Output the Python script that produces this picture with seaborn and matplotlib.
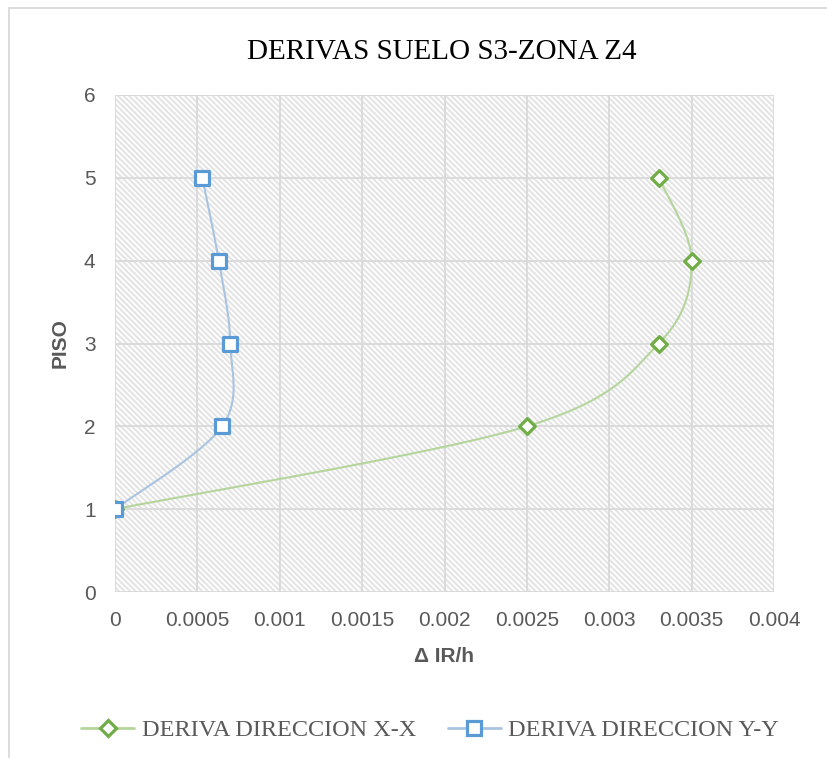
import numpy as np
import pandas as pd
import matplotlib
matplotlib.use("Agg")
import matplotlib.pyplot as plt
from matplotlib.patches import Rectangle
from matplotlib.lines import Line2D
import seaborn as sns

# ---- data ----
pisos = [1, 2, 3, 4, 5]
deriva_xx = [0.0, 0.00250, 0.00330, 0.00350, 0.00330]
deriva_yy = [0.0, 0.00065, 0.00070, 0.00063, 0.00053]
series_names = ["DERIVA DIRECCION X-X", "DERIVA DIRECCION Y-Y"]
x_ticks = [0, 0.0005, 0.001, 0.0015, 0.002, 0.0025, 0.003, 0.0035, 0.004]
x_tick_labels = ["0", "0.0005", "0.001", "0.0015", "0.002", "0.0025", "0.003", "0.0035", "0.004"]
y_ticks = [0, 1, 2, 3, 4, 5, 6]
title = "DERIVAS SUELO S3-ZONA Z4"
xlabel = "\u0394 IR/h"
ylabel = "PISO"

sns.set_theme(style="white")
plt.rcParams["hatch.linewidth"] = 1.5
plt.rcParams["hatch.color"] = "#e4e4e4"

W, H = 827, 758
fig = plt.figure(figsize=(W / 100, H / 100), dpi=100)
ax = fig.add_axes([115 / W, 1 - 592 / H, (774 - 115) / W, (592 - 95) / H])

XMAX, YMAX = 0.004, 6
ax.set_xlim(0, XMAX)
ax.set_ylim(0, YMAX)

# hatched plot area background
ax.add_patch(Rectangle((0, 0), 1, 1, transform=ax.transAxes, facecolor="white",
                       edgecolor="#e4e4e4", hatch="\\\\\\\\\\\\", linewidth=0, zorder=0))

def smooth(xs, ys, n=40):
    # Excel-like smoothed line (Catmull-Rom / Bezier) in display-proportional space
    sx, sy = 659 / XMAX, 497 / YMAX
    P = np.column_stack([np.array(xs) * sx, np.array(ys) * sy])
    out = []
    for i in range(len(P) - 1):
        p0 = P[i - 1] if i > 0 else P[i]
        p1, p2 = P[i], P[i + 1]
        p3 = P[i + 2] if i + 2 < len(P) else P[i + 1]
        c1 = p1 + (p2 - p0) / 6
        c2 = p2 - (p3 - p1) / 6
        t = np.linspace(0, 1, n)[:, None]
        seg = (1 - t) ** 3 * p1 + 3 * (1 - t) ** 2 * t * c1 + 3 * (1 - t) * t ** 2 * c2 + t ** 3 * p2
        out.append(seg if i == 0 else seg[1:])
    S = np.vstack(out)
    return S[:, 0] / sx, S[:, 1] / sy

green, green_l = "#70ad47", "#b4d59c"
blue, blue_l = "#5b9bd5", "#a9c4e0"

for vals, lc in [(deriva_xx, green_l), (deriva_yy, blue_l)]:
    cx, cy = smooth(vals, pisos)
    df = pd.DataFrame({"x": cx, "y": cy})
    sns.lineplot(data=df, x="x", y="y", sort=False, estimator=None, color=lc,
                 linewidth=1.5, ax=ax, zorder=3)

df_pts = pd.DataFrame({"x": deriva_xx + deriva_yy, "y": pisos + pisos,
                       "serie": [series_names[0]] * 5 + [series_names[1]] * 5})
sns.scatterplot(data=df_pts[df_pts.serie == series_names[0]], x="x", y="y", marker="D",
                s=8 ** 2, facecolor="white", edgecolor=green, linewidth=2.3, ax=ax,
                zorder=5, legend=False)
sns.scatterplot(data=df_pts[df_pts.serie == series_names[1]], x="x", y="y", marker="s",
                s=10 ** 2, facecolor="white", edgecolor=blue, linewidth=2.3, ax=ax,
                zorder=5, legend=False)

ax.set_xticks(x_ticks)
ax.set_xticklabels(x_tick_labels)
ax.set_yticks(y_ticks)
ax.grid(True, color="#d9d9d9", linewidth=1.3, zorder=1)
ax.set_axisbelow(True)
for s in ax.spines.values():
    s.set_visible(False)
ax.tick_params(axis="both", length=0, labelsize=15, labelcolor="#595959", pad=14)
for lab in ax.get_xticklabels() + ax.get_yticklabels():
    lab.set_family("Liberation Sans")

ax.set_xlabel(xlabel, fontsize=15, fontweight="bold", color="#595959",
              family="Liberation Sans", labelpad=12)
ax.set_ylabel(ylabel, fontsize=15, fontweight="bold", color="#595959",
              family="Liberation Sans", labelpad=10)

fig.text(442 / W, 1 - 52 / H, title, ha="center", va="center", fontsize=21,
         family="Liberation Serif", color="#000000")

handles = [
    Line2D([0], [0], color=green_l, lw=2, marker="D", markersize=8,
           markerfacecolor="white", markeredgecolor=green, markeredgewidth=2.3),
    Line2D([0], [0], color=blue_l, lw=2, marker="s", markersize=10,
           markerfacecolor="white", markeredgecolor=blue, markeredgewidth=2.3),
]
leg = fig.legend(handles, series_names, loc="center", bbox_to_anchor=(430 / W, 1 - 730 / H),
                 ncol=2, frameon=False, handlelength=2.2, columnspacing=1.3,
                 handletextpad=0.3, prop={"family": "Liberation Serif", "size": 17.5})
for t in leg.get_texts():
    t.set_color("#595959")

# outer chart border
fig.add_artist(Rectangle((9 / W, -0.1), 1.2, 1 - 8 / H + 0.1, transform=fig.transFigure,
                         fill=False, edgecolor="#d9d9d9", linewidth=1.3))

fig.savefig("out.png", dpi=100)
